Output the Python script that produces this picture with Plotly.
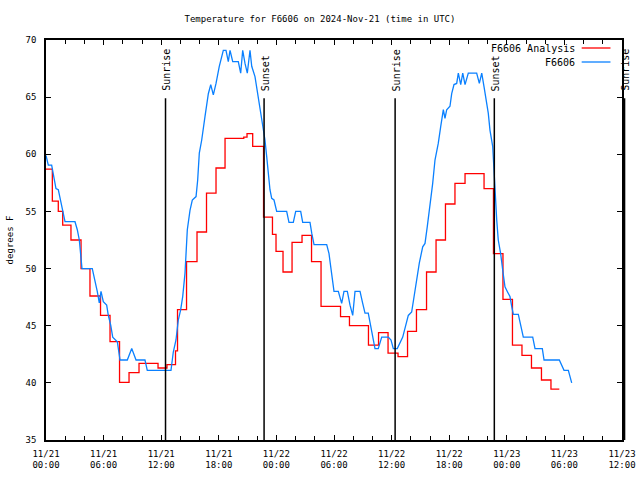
import pandas as pd
import plotly.graph_objects as go

START = "2024-11-21 00:00"
END = "2024-11-23 12:00"
Y_MIN, Y_MAX = 35, 70

title_text = "Temperature for F6606 on 2024-Nov-21 (time in UTC)"
y_title = "degrees F"
analysis_name = "F6606 Analysis"
obs_name = "F6606"

# F6606 Analysis (step changes): hours since START, temperature (F)
analysis_hours = [0.00, 0.66, 1.28, 1.74, 2.60, 3.65, 4.58, 5.68, 6.67, 7.66,
                  8.65, 9.69, 11.67, 12.60, 13.49, 13.70, 14.64, 15.73, 16.72, 17.71,
                  18.65, 20.60, 20.94, 21.53, 22.66, 23.59, 23.96, 24.69, 25.63, 26.67,
                  27.66, 28.65, 30.68, 31.61, 33.59, 34.64, 35.63, 36.67, 37.66, 38.59,
                  39.64, 40.63, 41.61, 42.60, 43.65, 45.63, 46.61, 47.60, 48.59, 49.58,
                  50.57, 51.61, 52.60, 53.47]
analysis_temps = [58.7, 55.9, 55.0, 53.8, 52.5, 50.0, 47.6, 45.9, 43.6, 40.05,
                  40.9, 41.7, 41.3, 41.6, 42.8, 46.4, 50.6, 53.2, 56.6, 58.8,
                  61.4, 61.5, 61.8, 60.7, 54.5, 53.0, 51.5, 49.7, 52.3, 52.9,
                  50.6, 46.7, 45.8, 45.0, 43.3, 44.4, 42.6, 42.3, 44.5, 46.4,
                  49.7, 52.5, 55.65, 57.45, 58.3, 57.0, 51.3, 47.3, 43.3, 42.4,
                  41.3, 40.25, 39.45, 39.45]

# F6606 observations: hours since START, temperature (F)
obs_hours = [0.00, 0.24, 0.59, 0.76, 1.04, 1.28, 1.53, 1.74, 1.98, 3.02,
             3.26, 3.47, 3.61, 3.75, 4.82, 5.10, 5.34, 5.55, 5.73, 5.97,
             6.32, 6.49, 6.74, 6.95, 7.19, 7.43, 7.71, 8.47, 8.93, 9.38,
             10.31, 10.55, 13.02, 13.26, 13.54, 13.78, 14.03, 14.24, 14.48, 14.58,
             14.72, 15.00, 15.24, 15.63, 15.80, 15.97, 16.22, 16.56, 16.91, 17.16,
             17.43, 17.71, 18.05, 18.47, 18.75, 18.99, 19.17, 19.45, 20.03, 20.28,
             20.49, 20.73, 20.97, 21.25, 21.43, 21.77, 22.01, 22.29, 22.64, 22.81,
             22.99, 23.33, 23.51, 23.75, 24.03, 25.07, 25.31, 25.76, 26.01, 26.53,
             26.74, 27.50, 27.68, 27.92, 29.24, 29.48, 29.66, 29.86, 30.00, 30.45,
             30.63, 30.80, 31.04, 31.39, 31.67, 31.95, 32.19, 32.71, 32.99, 33.23,
             33.57, 33.82, 34.03, 34.27, 34.61, 34.97, 35.66, 35.94, 36.18, 36.59,
             37.16, 37.40, 37.74, 38.09, 38.44, 38.68, 38.89, 39.24, 39.48, 39.72,
             40.00, 40.28, 40.52, 40.86, 41.11, 41.39, 41.56, 41.74, 42.08, 42.26,
             42.50, 42.78, 42.95, 43.20, 43.41, 43.65, 43.99, 44.86, 45.14, 45.39,
             45.63, 45.83, 46.07, 46.25, 46.53, 46.67, 46.77, 46.95, 47.11, 47.36,
             47.57, 47.81, 48.05, 48.33, 48.51, 48.68, 49.20, 49.45, 49.72, 50.70,
             50.94, 51.70, 51.88, 53.47, 53.72, 53.96, 54.41, 54.76]
obs_temps = [59.9, 59.05, 59.05, 58.3, 57.0, 56.9, 56.0, 55.1, 54.1, 54.1,
             53.4, 52.5, 51.3, 50.0, 50.0, 49.0, 48.0, 47.0, 48.0, 47.1,
             46.8, 45.9, 45.05, 44.0, 43.75, 43.6, 42.0, 42.0, 43.0, 42.0,
             42.0, 41.1, 41.1, 42.7, 43.75, 45.5, 46.4, 47.55, 49.6, 51.3,
             53.4, 55.1, 56.0, 56.3, 57.75, 60.1, 61.25, 63.3, 65.3, 66.1,
             65.2, 66.2, 67.7, 69.1, 69.1, 68.1, 69.1, 68.1, 68.1, 67.1,
             69.1, 67.95, 67.1, 69.1, 67.7, 66.8, 65.6, 64.2, 62.4, 61.25,
             59.8, 56.9, 56.15, 56.0, 55.0, 55.0, 54.05, 54.05, 55.0, 55.0,
             54.05, 54.05, 53.1, 52.1, 52.1, 51.3, 50.15, 49.0, 48.0, 48.0,
             47.4, 46.95, 48.0, 48.0, 46.8, 45.9, 48.0, 48.0, 46.95, 46.1,
             46.1, 44.9, 44.0, 43.0, 43.0, 44.0, 44.0, 43.75, 43.0, 43.0,
             44.0, 44.9, 45.9, 46.2, 48.1, 49.6, 50.5, 51.9, 52.2, 53.7,
             55.4, 57.45, 59.5, 60.95, 62.4, 63.9, 63.15, 63.9, 64.2, 65.3,
             66.1, 66.2, 67.1, 66.1, 67.1, 66.1, 67.1, 67.1, 66.2, 67.1,
             65.9, 64.75, 63.6, 62.1, 60.7, 58.6, 56.6, 54.25, 52.5, 51.3,
             49.9, 48.4, 48.0, 47.55, 46.7, 46.0, 46.0, 44.9, 44.0, 44.0,
             43.0, 43.0, 42.0, 42.0, 41.55, 41.1, 41.1, 40.0]

sunrise_times = ["2024-11-21 12:27", "2024-11-22 12:22", "2024-11-23 12:16"]
sunset_times = ["2024-11-21 22:43", "2024-11-22 22:42"]
event_top = 64.9

FONT = "DejaVu Sans Mono"
FS = 9
RED = "#ff0000"
BLUE = "#0a80ff"

t0 = pd.Timestamp(START)
t1 = pd.Timestamp(END)
span = (t1 - t0).total_seconds()

def to_time(hours):
    return [t0 + pd.to_timedelta(h, unit="h") for h in hours]

def xpaper(ts):
    return (pd.Timestamp(ts) - t0).total_seconds() / span

def ypaper(v):
    return (v - Y_MIN) / (Y_MAX - Y_MIN)

fig = go.Figure()
fig.add_trace(go.Scatter(x=to_time(analysis_hours), y=analysis_temps, mode="lines",
                         line=dict(color=RED, width=1.3, shape="hv"),
                         name=analysis_name, showlegend=False, hoverinfo="skip"))
fig.add_trace(go.Scatter(x=to_time(obs_hours), y=obs_temps, mode="lines",
                         line=dict(color=BLUE, width=1.3),
                         name=obs_name, showlegend=False, hoverinfo="skip"))

shapes = []
annotations = []
for label, times in (("Sunrise", sunrise_times), ("Sunset", sunset_times)):
    for ts in times:
        xp = xpaper(ts)
        shapes.append(dict(type="line", xref="paper", yref="paper",
                           x0=xp, x1=xp, y0=0, y1=ypaper(event_top),
                           line=dict(color="black", width=1.5)))
        annotations.append(dict(text=label, xref="paper", yref="paper",
                                x=xp, y=ypaper(event_top), xanchor="center",
                                yanchor="bottom", textangle=-90, showarrow=False,
                                xshift=1, yshift=5,
                                font=dict(family=FONT, size=FS + 1, color="black")))

# legend (gnuplot style: text then line sample)
for i, (name, col) in enumerate(((analysis_name, RED), (obs_name, BLUE))):
    yp = 0.98 - i * 0.035
    annotations.append(dict(text=name, xref="paper", yref="paper", x=0.922, y=yp,
                            xanchor="right", yanchor="middle", showarrow=False,
                            font=dict(family=FONT, size=FS + 1, color="black")))
    shapes.append(dict(type="line", xref="paper", yref="paper", x0=0.930, x1=0.980,
                       y0=yp, y1=yp, line=dict(color=col, width=1.3)))

fig.update_layout(
    width=640, height=480,
    margin=dict(l=46, r=18, t=40, b=40, autoexpand=False),
    paper_bgcolor="white", plot_bgcolor="white",
    font=dict(family=FONT, size=FS, color="black"),
    title=dict(text=title_text, x=0.5, xref="container", xanchor="center",
               y=0.96, yref="container", yanchor="middle",
               font=dict(family=FONT, size=FS, color="black")),
    shapes=shapes, annotations=annotations,
    hovermode=False,
)
fig.update_xaxes(
    type="date", range=[t0, t1],
    tick0=t0, dtick=6 * 3600000, tickformat="%m/%d<br>%H:%M",
    ticks="inside", ticklen=5, tickcolor="black",
    minor=dict(dtick=2 * 3600000, ticks="inside", ticklen=4, tickcolor="black", showgrid=False),
    showline=True, linecolor="black", linewidth=1.5, mirror="allticks",
    showgrid=False, zeroline=False, automargin=False, ticklabelstandoff=4,
)
fig.update_yaxes(
    range=[Y_MIN, Y_MAX], dtick=5, ticks="inside", ticklen=5, tickcolor="black",
    showline=True, linecolor="black", linewidth=1.5, mirror="allticks",
    showgrid=False, zeroline=False, ticklabelstandoff=6, automargin=False,
    title=dict(text=y_title, standoff=10, font=dict(family=FONT, size=FS)),
)

fig.write_html("out.html", config={"displayModeBar": False},
               post_script="document.body.style.margin='0';")
